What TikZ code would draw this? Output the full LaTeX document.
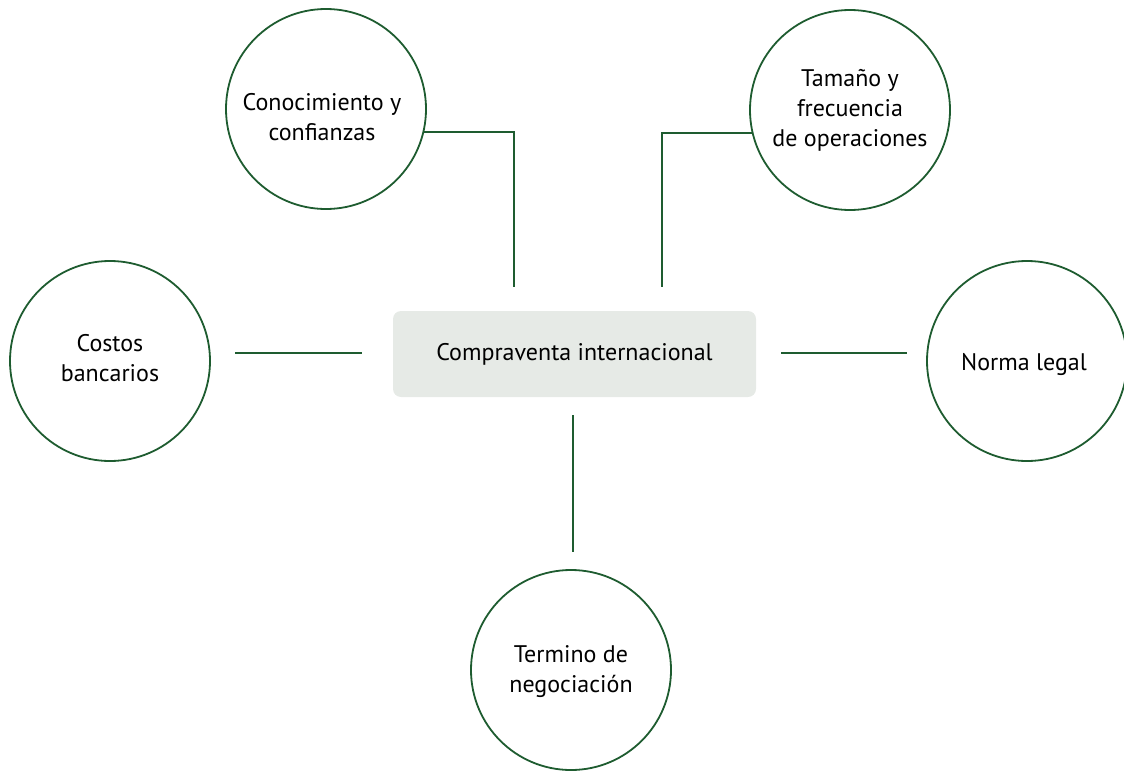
\documentclass[tikz,border=0pt]{standalone}
\usepackage{fontspec}
\setmainfont{PT Sans}
\definecolor{dgreen}{HTML}{1E5C30}
\definecolor{boxfill}{HTML}{E6EAE6}
\begin{document}
\begin{tikzpicture}[x=1pt,y=-1pt,
  bubble/.style={circle,draw=dgreen,line width=1.8pt,minimum size=200pt,inner sep=0pt},
  txt/.style={align=center,inner sep=0pt,font=\fontsize{24}{30}\selectfont},
  centerbox/.style={rectangle,rounded corners=8pt,fill=boxfill,minimum width=363pt,minimum height=86pt,font=\fontsize{24}{30}\selectfont},
  link/.style={draw=dgreen,line width=1.8pt}]
\useasboundingbox (0,0) rectangle (1124,771);
\node[centerbox] (cv) at (574.5,354) {Compraventa internacional};
\node[bubble] (c1) at (326,109) {};
\node[bubble] (c2) at (850,110) {};
\node[bubble] (c3) at (110,361) {};
\node[bubble] (c4) at (1027,361) {};
\node[bubble] (c5) at (571,670) {};
\node[txt] (t1) at (322,117) {Conocimiento y\\confianzas};
\node[txt] (t2) at (850,110) {Tamaño y\\frecuencia\\de operaciones};
\node[txt] (t3) at (110,358) {Costos\\bancarios};
\node[txt] (t4) at (1024,365) {Norma legal};
\node[txt] (t5) at (571,672) {Termino de\\negociación};
\coordinate (e1) at (514,287);
\coordinate (e2) at (662,287);
\coordinate (l1) at (235,353);
\coordinate (l2) at (362,353);
\coordinate (r1) at (781,353);
\coordinate (r2) at (907,353);
\coordinate (b1) at (573,415);
\coordinate (b2) at (573,552);
\draw[link] (c1.-13) -| (e1);
\draw[link] (c2.193) -| (e2);
\draw[link] (l1) -- (l2);
\draw[link] (r1) -- (r2);
\draw[link] (b1) -- (b2);
\end{tikzpicture}
\end{document}
